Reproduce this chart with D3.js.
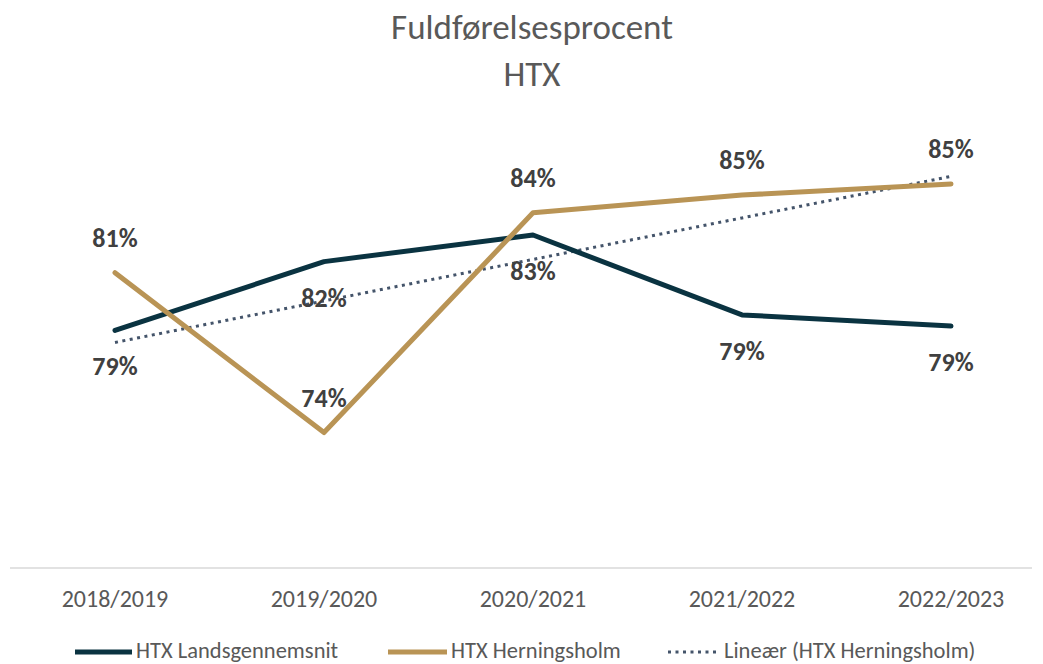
<!DOCTYPE html>
<html>
<head>
<meta charset="utf-8">
<script src="https://cdn.jsdelivr.net/npm/d3@7"></script>
<style>
  body { margin: 0; background: #fff; }
  text { font-family: Carlito, Lato, sans-serif; }
</style>
</head>
<body>
<svg id="chart" width="1043" height="664"></svg>
<script>
const years = ["2018/2019", "2019/2020", "2020/2021", "2021/2022", "2022/2023"];
const landsgennemsnit = [78.7, 81.8, 83.0, 79.4, 78.9];
const herningsholm = [81.3, 74.1, 84.0, 84.8, 85.3];
const seriesNames = ["HTX Landsgennemsnit", "HTX Herningsholm", "Lineær (HTX Herningsholm)"];

const darkCol = "#0a3341", goldCol = "#b99455", trendCol = "#44546a";

var svg = d3.select("#chart");

// title
svg.append("text").attr("x", 532).attr("y", 39).attr("text-anchor", "middle")
  .attr("font-size", 35).attr("fill", "#595959").text("Fuldførelsesprocent");
svg.append("text").attr("x", 532).attr("y", 86).attr("text-anchor", "middle")
  .attr("font-size", 35).attr("fill", "#595959").text("HTX");

var x = d3.scaleBand().domain(years).range([10.5, 1055.5]);
var y = d3.scaleLinear().domain([68, 88]).range([568, 124]);
var cx = d => x(d) + x.bandwidth() / 2;

// axis line
svg.append("line").attr("x1", 10).attr("x2", 1032).attr("y1", 568).attr("y2", 568)
  .attr("stroke", "#d9d9d9").attr("stroke-width", 1.5);

svg.selectAll(".cat").data(years).enter().append("text")
  .attr("x", d => cx(d)).attr("y", 607).attr("text-anchor", "middle")
  .attr("font-size", 24).attr("fill", "#595959").text(d => d);

// linear trend of Herningsholm
var idx = d3.range(herningsholm.length);
var mx = d3.mean(idx), my = d3.mean(herningsholm);
var slope = d3.sum(idx, i => (i - mx) * (herningsholm[i] - my)) / d3.sum(idx, i => (i - mx) * (i - mx));
var icpt = my - slope * mx;

var line = d3.line().x((d, i) => cx(years[i])).y(d => y(d));

svg.append("path").datum(idx.map(i => icpt + slope * i))
  .attr("d", line).attr("fill", "none").attr("stroke", trendCol)
  .attr("stroke-width", 3).attr("stroke-dasharray", "3,4.5");

svg.append("path").datum(landsgennemsnit).attr("d", line)
  .attr("fill", "none").attr("stroke", darkCol).attr("stroke-width", 5)
  .attr("stroke-linejoin", "round").attr("stroke-linecap", "round");

svg.append("path").datum(herningsholm).attr("d", line)
  .attr("fill", "none").attr("stroke", goldCol).attr("stroke-width", 5)
  .attr("stroke-linejoin", "round").attr("stroke-linecap", "round");

// data labels
svg.selectAll(".lblD").data(landsgennemsnit).enter().append("text")
  .attr("x", (d, i) => cx(years[i])).attr("y", d => y(d) + 45)
  .attr("text-anchor", "middle").attr("font-size", 26).attr("font-weight", "bold")
  .attr("fill", "#404040").text(d => Math.round(d) + "%");

svg.selectAll(".lblG").data(herningsholm).enter().append("text")
  .attr("x", (d, i) => cx(years[i])).attr("y", d => y(d) - 26)
  .attr("text-anchor", "middle").attr("font-size", 26).attr("font-weight", "bold")
  .attr("fill", "#404040").text(d => Math.round(d) + "%");

// legend
var legend = [
  { name: seriesNames[0], x: 75, w: 57, col: darkCol, sw: 5, dash: null },
  { name: seriesNames[1], x: 388, w: 59, col: goldCol, sw: 5, dash: null },
  { name: seriesNames[2], x: 668, w: 52, col: trendCol, sw: 3, dash: "3,4.5" }
];
var lg = svg.selectAll(".leg").data(legend).enter().append("g");
lg.append("line").attr("x1", d => d.x).attr("x2", d => d.x + d.w)
  .attr("y1", 652).attr("y2", 652).attr("stroke", d => d.col)
  .attr("stroke-width", d => d.sw).attr("stroke-dasharray", d => d.dash);
lg.append("text").attr("x", d => d.x + d.w + 4).attr("y", 658)
  .attr("font-size", 22.5).attr("fill", "#595959").text(d => d.name);
</script>
</body>
</html>
